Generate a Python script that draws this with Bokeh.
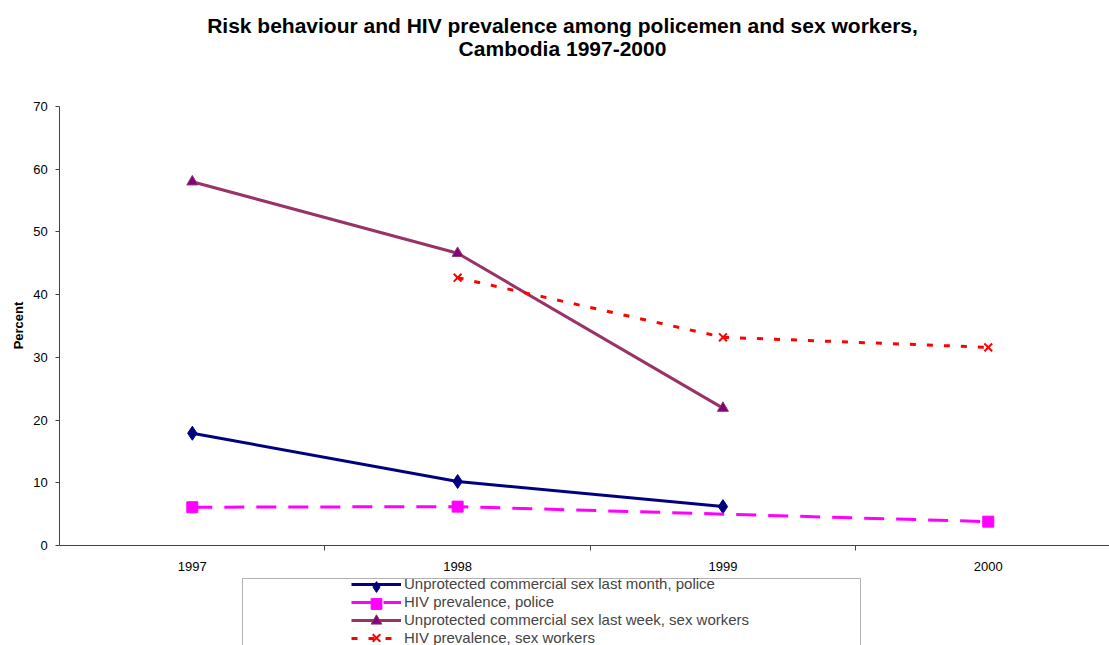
import math
from bokeh.plotting import figure
from bokeh.models import (Range1d, FixedTicker, Legend, LegendItem, BoxAnnotation,
                          ColumnDataSource, Label)
from bokeh.embed import file_html
from bokeh.resources import INLINE

# ---- data ----
years = [1997, 1998, 1999, 2000]
year_labels = ["1997", "1998", "1999", "2000"]
unprot_police = [17.9, 10.2, 6.2, None]
hiv_police = [6.1, 6.2, None, 3.8]
unprot_sw = [58.0, 46.6, 21.9, None]
hiv_sw = [None, 42.7, 33.2, 31.6]
y_ticks = [0, 10, 20, 30, 40, 50, 60, 70]

series_names = [
    "Unprotected commercial sex last month, police",
    "HIV prevalence, police",
    "Unprotected commercial sex last week, sex workers",
    "HIV prevalence, sex workers",
]
title_lines = ["Risk behaviour and HIV prevalence among policemen and sex workers,",
               "Cambodia 1997-2000"]
y_title = "Percent"

FONT = "Liberation Sans"

# The frame covers the whole canvas; the axes are drawn at fixed data locations inside it.
p = figure(width=1109, height=645, output_backend="svg", toolbar_location=None,
           x_range=Range1d(1996.277, 2000.457), y_range=Range1d(-15.945, 86.90),
           min_border_left=0, min_border_right=0, min_border_top=0, min_border_bottom=0,
           outline_line_color=None)
p.title.visible = False
p.xgrid.visible = False
p.ygrid.visible = False

# x axis drawn at y = 0
xa = p.xaxis[0]
xa.fixed_location = 0
xa.bounds = (1996.5, 2000.457)
xa.ticker = FixedTicker(ticks=years, minor_ticks=[1997.5, 1998.5, 1999.5])
xa.major_label_overrides = {y: l for y, l in zip(years, year_labels)}
xa.major_tick_out = 0
xa.major_tick_in = 0
xa.minor_tick_out = 5
xa.minor_tick_in = 0
xa.major_label_standoff = 12
xa.major_label_text_font = FONT
xa.major_label_text_font_size = "13px"
xa.major_label_text_color = "black"
xa.axis_line_color = "#444444"
xa.minor_tick_line_color = "#444444"

# y axis drawn at the left category boundary
ya = p.yaxis[0]
ya.fixed_location = 1996.5
ya.bounds = (0, 70)
ya.ticker = FixedTicker(ticks=y_ticks, minor_ticks=[])
ya.major_tick_out = 4
ya.major_tick_in = 0
ya.minor_tick_out = 0
ya.minor_tick_in = 0
ya.major_label_standoff = 8
ya.major_label_text_font = FONT
ya.major_label_text_font_size = "13px"
ya.major_label_text_color = "black"
ya.axis_line_color = "#444444"
ya.major_tick_line_color = "#444444"

# titles (screen units: pixels from the frame's bottom-left corner)
for txt, sy in zip(title_lines, [620, 597]):
    p.add_layout(Label(x=562, y=sy, x_units="screen", y_units="screen", text=txt,
                       text_align="center", text_baseline="middle", text_font=FONT,
                       text_font_size="21px", text_font_style="bold", text_color="black"))
p.add_layout(Label(x=18, y=320, x_units="screen", y_units="screen", text=y_title,
                   angle=math.pi / 2, text_align="center", text_baseline="middle",
                   text_font=FONT, text_font_size="13px", text_font_style="bold",
                   text_color="black"))


def pts(vals):
    xs = [x for x, v in zip(years, vals) if v is not None]
    ys = [v for v in vals if v is not None]
    return ColumnDataSource(dict(x=xs, y=ys))

line_items = []
markers = []

s1 = pts(unprot_police)
l1 = p.line("x", "y", source=s1, line_color="#000080", line_width=3)
m1 = p.scatter("x", "y", source=s1, marker="diamond", size=14, fill_color="#000080", line_color="#000080")
line_items.append(LegendItem(label=series_names[0], renderers=[l1]))
markers.append(m1)

s2 = pts(hiv_police)
l2 = p.line("x", "y", source=s2, line_color="#FF00FF", line_width=3, line_dash="20 12")
m2 = p.scatter("x", "y", source=s2, marker="square", size=11, fill_color="#FF00FF", line_color="#FF00FF")
line_items.append(LegendItem(label=series_names[1], renderers=[l2]))
markers.append(m2)

s3 = pts(unprot_sw)
l3 = p.line("x", "y", source=s3, line_color="#993366", line_width=3)
m3 = p.scatter("x", "y", source=s3, marker="triangle", size=11, fill_color="#800080", line_color="#993366")
line_items.append(LegendItem(label=series_names[2], renderers=[l3]))
markers.append(m3)

s4 = pts(hiv_sw)
l4 = p.line("x", "y", source=s4, line_color="#FF0000", line_width=3, line_dash="6 11")
m4 = p.scatter("x", "y", source=s4, marker="x", size=11, line_color="#FF0000", line_width=2)
line_items.append(LegendItem(label=series_names[3], renderers=[l4]))
markers.append(m4)

# legend frame
box = BoxAnnotation(left=242, right=860, top=67, bottom=-5,
                    left_units="screen", right_units="screen", top_units="screen", bottom_units="screen",
                    fill_color="white", fill_alpha=1.0, line_color="black", line_width=1)
p.add_layout(box)

ROW = 17          # legend row pitch in px
GLYPH_LEFT = 351  # legend glyph column, px from the left edge
TOP_ROW_Y = 59    # centre of first legend row, px above the bottom edge

legend = Legend(items=line_items, location=(GLYPH_LEFT, TOP_ROW_Y + 8 - 4 * ROW),
                orientation="vertical",
                glyph_width=50, glyph_height=ROW - 1, label_height=ROW - 1, spacing=1,
                padding=0, margin=0, label_standoff=3, label_text_font=FONT,
                label_text_font_size="15px", border_line_alpha=0, background_fill_alpha=0)
p.add_layout(legend)

# larger markers on top of the legend lines, one small legend per row
MK = 27
for i, m in enumerate(markers):
    cy = TOP_ROW_Y - i * ROW
    p.add_layout(Legend(items=[LegendItem(label=" ", renderers=[m])],
                        location=(GLYPH_LEFT, cy - MK / 2), glyph_width=50, glyph_height=MK,
                        label_height=MK, label_width=1, padding=0, margin=0, spacing=0,
                        label_standoff=0, label_text_font_size="1px",
                        border_line_alpha=0, background_fill_alpha=0))

open("out.html", "w").write(file_html(p, INLINE))
